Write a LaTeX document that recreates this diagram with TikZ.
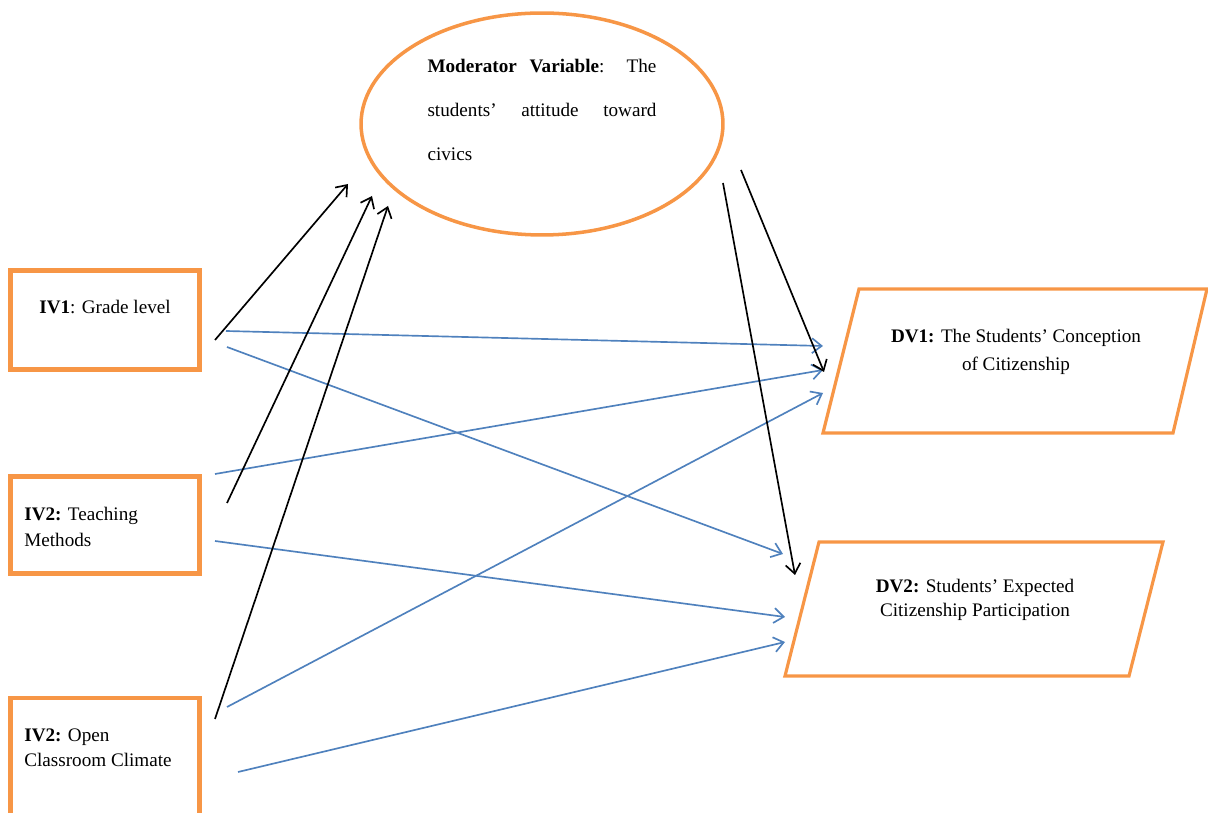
\documentclass[tikz,border=0pt]{standalone}
\usepackage{fontspec}
\setmainfont{Liberation Serif}
\usetikzlibrary{shapes.geometric,arrows.meta}
\definecolor{borange}{RGB}{247,150,70}
\definecolor{ablue}{RGB}{79,129,189}
\begin{document}
\begin{tikzpicture}[x=0.02cm,y=-0.02cm,
  font=\fontsize{10.9}{14.5}\selectfont,
  ivbox/.style={draw=borange,line width=2.7pt,minimum width=3.77cm,inner sep=0pt},
  dvbox/.style={draw=borange,line width=1.8pt,line join=miter},
  modbox/.style={draw=borange,line width=2pt,ellipse,minimum width=7.24cm,minimum height=4.44cm,inner sep=0pt},
  txt/.style={inner sep=0pt,align=left},
  ctxt/.style={inner sep=0pt,align=center},
  blk/.style={draw=black,line width=0.95pt,-{Straight Barb[length=5.5pt,width=8.5pt]}},
  blu/.style={draw=ablue,line width=0.95pt,-{Straight Barb[length=5.5pt,width=8.5pt]}}]
\useasboundingbox (0,0) rectangle (1208,813);
\clip (0,0) rectangle (1208,813);

% moderator
\node[modbox] (mod) at (542,124) {};
\node[txt,font=\fontsize{10.9}{25}\selectfont] (modt) at (542,110)
  {\makebox[4.58cm][s]{\textbf{Moderator} \textbf{Variable}: The}\\
   \makebox[4.58cm][s]{students’ attitude toward}\\
   civics};

% independent variables
\node[ivbox,minimum height=1.99cm] (iv1) at (105,320) {};
\node[ctxt] (iv1t) at (105,307) {\textbf{IV1}: Grade level};
\node[ivbox,minimum height=1.93cm] (iv2) at (105,525) {};
\node[txt,anchor=west] (iv2t) at (24,527) {\textbf{IV2:} Teaching\\Methods};
\node[ivbox,minimum height=2.6cm] (iv3) at (105,763) {};
\node[txt,anchor=west] (iv3t) at (24,748) {\textbf{IV2:} Open\\Classroom Climate};

% dependent variables
\draw[dvbox] (823,433) -- (859,289) -- (1207,289) -- (1173,433) -- cycle;
\node[ctxt,font=\fontsize{10.9}{15.5}\selectfont] (dv1t) at (1016,352)
  {\textbf{DV1:} The Students’ Conception\\of Citizenship};
\draw[dvbox] (785,676) -- (819,542) -- (1163,542) -- (1129,676) -- cycle;
\node[ctxt,font=\fontsize{10.9}{13.8}\selectfont] (dv2t) at (975,600)
  {\textbf{DV2:} Students’ Expected\\Citizenship Participation};

% arrow end points
\coordinate (k1s) at (215,340); \coordinate (k1e) at (348,184);
\coordinate (k2s) at (227,503); \coordinate (k2e) at (372,196);
\coordinate (k3s) at (215,719); \coordinate (k3e) at (388,206);
\coordinate (k4s) at (741,170); \coordinate (k4e) at (824,372);
\coordinate (k5s) at (723,183); \coordinate (k5e) at (795,575);

\coordinate (b1s) at (226,331); \coordinate (b1e) at (823,346);
\coordinate (b2s) at (227,347); \coordinate (b2e) at (783,554);
\coordinate (b3s) at (215,474); \coordinate (b3e) at (823,370);
\coordinate (b4s) at (215,541); \coordinate (b4e) at (785,617);
\coordinate (b5s) at (227,707); \coordinate (b5e) at (823,393);
\coordinate (b6s) at (238,772); \coordinate (b6e) at (785,642);

\draw[blu] (b1s) -- (b1e);
\draw[blu] (b2s) -- (b2e);
\draw[blu] (b3s) -- (b3e);
\draw[blu] (b4s) -- (b4e);
\draw[blu] (b5s) -- (b5e);
\draw[blu] (b6s) -- (b6e);

\draw[blk] (k1s) -- (k1e);
\draw[blk] (k2s) -- (k2e);
\draw[blk] (k3s) -- (k3e);
\draw[blk] (k4s) -- (k4e);
\draw[blk] (k5s) -- (k5e);
\end{tikzpicture}
\end{document}
